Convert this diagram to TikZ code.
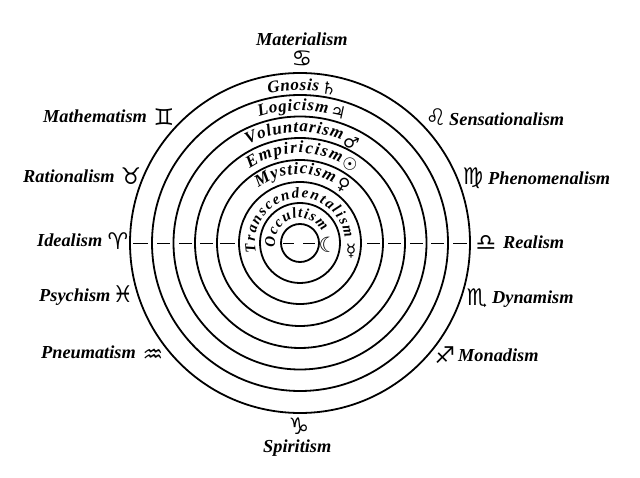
\documentclass[tikz,border=0pt]{standalone}
\usepackage{fontspec}
\setmainfont{Liberation Serif}
\newfontfamily\symfont{DejaVu Sans}
\usetikzlibrary{decorations.text}
\newcommand{\arcfont}{\fontsize{17}{17}\selectfont\bfseries\itshape}
\newcommand{\arcsmall}{\fontsize{15}{15}\selectfont\bfseries\itshape}
\tikzset{
  ring/.style={draw=black,line width=1.8pt},
  axis/.style={draw=black,line width=0.9pt},
  label/.style={anchor=base west,inner sep=0pt,font=\fontsize{18.3}{20}\selectfont\bfseries\itshape},
  sign/.style={inner sep=0pt,font=\fontsize{23}{23}\symfont},
  planet/.style={inner sep=0pt,font=\fontsize{17}{17}\symfont},
  bent/.style={decorate,decoration={text along path,text align={fit to path},text={|\arcfont|#1}}},
  bentsmall/.style={decorate,decoration={text along path,text align={fit to path},text={|\arcsmall|#1}}}
}
\begin{document}
\begin{tikzpicture}[x=1pt,y=1pt]
\useasboundingbox (0,0) rectangle (640,477);
\fill[white] (0,0) rectangle (640,477);
\coordinate (c) at (300,234);
% rings
\foreach \r in {170,148,126.5,105,83,61,40,19}
  \draw[ring] (c) circle[radius=\r];
% axis dashes
\draw[axis] (133,234)--(148,234) (157,234)--(170,234) (179,234)--(192,234) (200,234)--(213,234) (220,234)--(235,234)
  (283,234)--(294,234) (303,234)--(315,234)
  (367,234)--(380,234) (388,234)--(401,234) (410,234)--(423,234) (431,234)--(444,234) (453,234)--(467,234);
% ring labels
\path[bent=Gnosis] ([shift={(102:152.5)}]c) arc[start angle=102,end angle=83,radius=152.5];
\path[bent=Logicism] ([shift={(108:132.5)}]c) arc[start angle=108,end angle=78,radius=132.5];
\path[bent=Voluntarism] ([shift={(118:111)}]c) arc[start angle=118,end angle=68,radius=111];
\path[bent=Empiricism] ([shift={(124:90)}]c) arc[start angle=124,end angle=63.4,radius=90];
\path[bent=Mysticism] ([shift={(127:69)}]c) arc[start angle=127,end angle=61,radius=69];
\path[bentsmall=Transcendentalism] ([shift={(192:45)}]c) arc[start angle=192,end angle=6,radius=45];
\path[bentsmall=Occultism] ([shift={(190:25)}]c) arc[start angle=190,end angle=28,radius=25];
% planets
\node[planet,rotate=-8] (saturn) at (329,389) {♄};
\node[planet,rotate=-12] (jupiter) at (338,365) {♃};
\node[planet,rotate=-20] (mars) at (351,335) {♂};
\node[planet,rotate=-25] (sun) at (350,313) {☉};
\node[planet,rotate=-30] (venus) at (343,292) {♀};
\node[planet] (mercury) at (351,226) {☿};
\node[planet,font=\fontsize{21}{21}\symfont] (moon) at (328,232) {☾};
% outer labels
\node[label] (materialism) at (256,431) {Materialism};
\node[sign] (cancer) at (302,418) {♋};
\node[label] (mathematism) at (43,354) {Mathematism};
\node[sign] (gemini) at (164,360) {♊};
\node[label] (rationalism) at (23,294) {Rationalism};
\node[sign] (taurus) at (131,301) {♉};
\node[label] (idealism) at (37,230) {Idealism};
\node[sign] (aries) at (118,236) {♈};
\node[label] (psychism) at (39,175) {Psychism};
\node[sign] (pisces) at (123,183) {♓};
\node[label] (pneumatism) at (41,118) {Pneumatism};
\node[sign] (aquarius) at (153,121) {♒};
\node[label] (sensationalism) at (449,351) {Sensationalism};
\node[sign] (leo) at (436,360) {♌};
\node[label] (phenomenalism) at (488,292) {Phenomenalism};
\node[sign] (virgo) at (473,299) {♍};
\node[label] (realism) at (503,228) {Realism};
\node[sign] (libra) at (486,234) {♎};
\node[label] (dynamism) at (492,173) {Dynamism};
\node[sign] (scorpio) at (477,179) {♏};
\node[label] (monadism) at (458,115) {Monadism};
\node[sign] (sagittarius) at (445,122) {♐};
\node[label] (spiritism) at (263,25) {Spiritism};
\node[sign] (capricorn) at (299,51) {♑};
\end{tikzpicture}
\end{document}
